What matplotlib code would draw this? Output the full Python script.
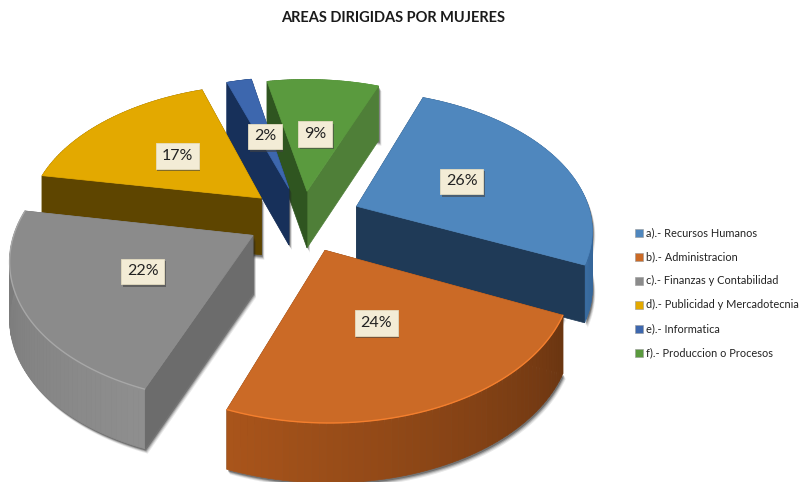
import numpy as np
import matplotlib
matplotlib.use('Agg')
import matplotlib.pyplot as plt
import matplotlib.patheffects as pe
from matplotlib.patches import Polygon, Rectangle

categories = ['a).- Recursos Humanos', 'b).- Administracion', 'c).- Finanzas y Contabilidad',
              'd).- Publicidad y Mercadotecnia', 'e).- Informatica', 'f).- Produccion o Procesos']
values = [26, 24, 22, 17, 2, 9]
pct_labels = ['26%', '24%', '22%', '17%', '2%', '9%']

top_colors = ['#4F87BE', '#CB6A26', '#8B8B8B', '#E3A900', '#3D67AE', '#5A9A3E']
arc_colors = ['#2A5078', '#7E3F14', '#7C7C7C', '#6B4E00', '#1E3A68', '#4F7F38']
side_colors = ['#1F3A57', '#6B3610', '#6C6C6C', '#5E4500', '#17305A', '#2F5520']
side2_colors = ['#1F3A57', '#6B3610', '#6C6C6C', '#5E4500', '#17305A', '#4F7F38']

# view of the pie
CX, CY = 303, 219
R = 235
TILT = 0.58
PERSP = 0.15
DEPTH = 57
START = 21
EXPLODE = [0.25, 0.24, 0.24, 0.24, 0.24, 0.21]
LABEL_R = [0.51, 0.50, 0.50, 0.52, 0.45, 0.48]


def project(x, y, explode_dir, explode):
    # x to the right, y towards the viewer, in units of the radius
    x = x + explode_dir[0] * explode
    y = y + explode_dir[1] * explode
    p = 1 / (1 - PERSP * y)
    return CX + R * x * p, CY + R * TILT * y * p, p


def wedge_points(t0, t1, n=60):
    t = np.radians(np.linspace(t0, t1, n))
    return np.sin(t), -np.cos(t)


fig = plt.figure(figsize=(7.99, 4.82), dpi=100)
ax = fig.add_axes([0, 0, 1, 1])
ax.set_xlim(0, 799)
ax.set_ylim(482, 0)
ax.axis('off')
plt.rcParams['font.family'] = ['Lato', 'DejaVu Sans']

angles = START + np.concatenate([[0], np.cumsum(values)]) * 3.6
mids = (angles[:-1] + angles[1:]) / 2
order = sorted(range(len(values)), key=lambda i: -np.cos(np.radians(mids[i])))

label_boxes = []
for i in order:
    m = np.radians(mids[i])
    d = (np.sin(m), -np.cos(m))
    xs, ys = wedge_points(angles[i], angles[i + 1])
    sx, sy, sp = project(xs, ys, d, EXPLODE[i])
    ox, oy, op = project(0.0, 0.0, d, EXPLODE[i])
    dz = DEPTH * sp ** 0.25
    dz0 = DEPTH * op ** 0.25

    # soft shadow under the slice
    outline_x = np.concatenate([[ox], sx, sx[::-1], [ox]])
    outline_y = np.concatenate([[oy + dz0], sy + dz, sy[::-1], [oy]])
    for off, a in [(5, 0.10), (4, 0.15), (3, 0.25), (2, 0.35)]:
        ax.add_patch(Polygon(np.column_stack([outline_x + off * 0.6, outline_y + off]),
                             closed=True, fc='#222222', ec='none', alpha=a))

    def draw_arc_wall():
        # shaded along the arc, darker towards the right
        base = np.array(matplotlib.colors.to_rgb(arc_colors[i]))
        for j in range(len(sx) - 1):
            shade = 1.15 - 0.2 * j / (len(sx) - 1) if np.sin(m) < 0 else 0.85 + 0.5 * j / (len(sx) - 1)
            col = np.clip(base * shade, 0, 1)
            ax.add_patch(Polygon([(sx[j], sy[j]), (sx[j + 1], sy[j + 1]),
                                  (sx[j + 1], sy[j + 1] + dz[j + 1]), (sx[j], sy[j] + dz[j])],
                                 closed=True, fc=col, ec=col, lw=0.5))

    def draw_radial_walls():
        ax.add_patch(Polygon([(ox, oy), (sx[-1], sy[-1]), (sx[-1], sy[-1] + dz[-1]), (ox, oy + dz0)],
                             closed=True, fc=side2_colors[i], ec=side2_colors[i], lw=0.5))
        ax.add_patch(Polygon([(ox, oy), (sx[0], sy[0]), (sx[0], sy[0] + dz[0]), (ox, oy + dz0)],
                             closed=True, fc=side_colors[i], ec=side_colors[i], lw=0.5))

    # slices with the arc at the back show their radial walls in front of it
    if np.cos(m) > 0:
        draw_arc_wall()
        draw_radial_walls()
    else:
        draw_radial_walls()
        draw_arc_wall()

    # top face and rim highlight
    ax.add_patch(Polygon(np.column_stack([np.r_[ox, sx], np.r_[oy, sy]]), closed=True,
                         fc=top_colors[i], ec=top_colors[i], lw=0.5))
    if np.cos(m) < 0:
        rim = np.clip(np.array(matplotlib.colors.to_rgb(top_colors[i])) * 1.2, 0, 1)
        ax.plot(sx, sy, color=rim, lw=1.0, solid_capstyle='round')

    lx, ly, _ = project(LABEL_R[i] * d[0], LABEL_R[i] * d[1], d, EXPLODE[i])
    label_boxes.append((lx, ly, pct_labels[i]))

for lx, ly, txt in label_boxes:
    t = ax.text(lx, ly, txt, ha='center', va='center', fontsize=11.5, color='#222222', zorder=6,
                bbox=dict(boxstyle='square,pad=0.36', fc='#F3ECD6', ec='#E4DCC0', lw=0.6))
    t.get_bbox_patch().set_path_effects([
        pe.SimplePatchShadow(offset=(1.2, -1.8), shadow_rgbFace='#444444', alpha=0.6), pe.Normal()])

ax.text(393, 18.5, 'AREAS DIRIGIDAS POR MUJERES', ha='center', va='center',
        fontsize=10.5, fontweight='bold', color='#1a1a1a')

for i, name in enumerate(categories):
    ly = 232.5 + i * 24
    ax.add_patch(Rectangle((635, ly - 4), 8, 8, fc=top_colors[i], ec='#999999', lw=0.4))
    ax.text(646, ly, name, ha='left', va='center', fontsize=7.9, color='#222222')

fig.savefig('out.png', dpi=100)
